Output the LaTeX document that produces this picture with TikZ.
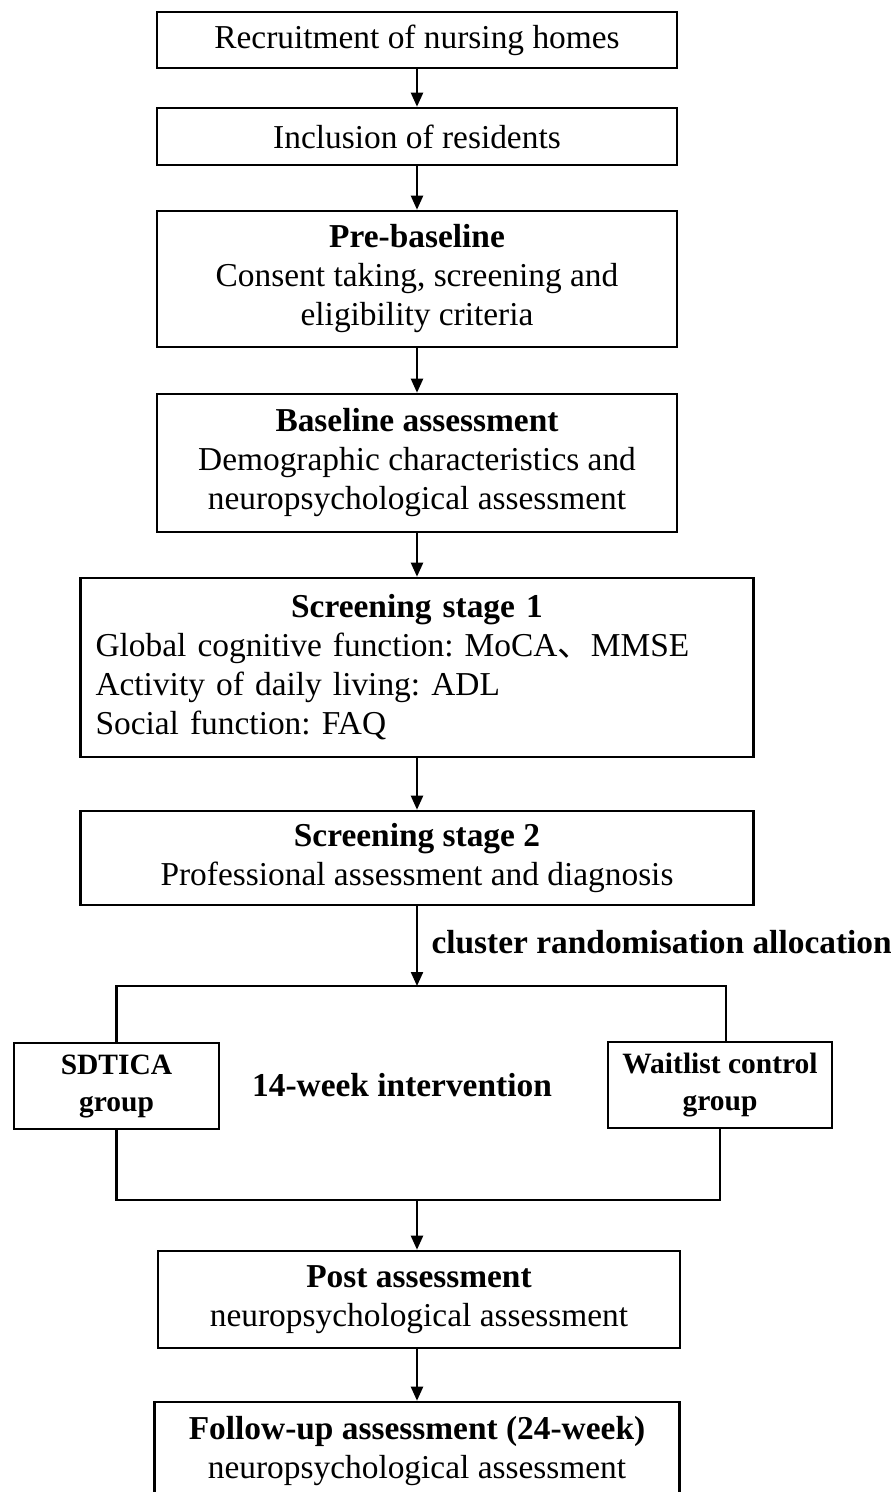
\documentclass[tikz,border=0pt]{standalone}
\usepackage{fontspec}
\setmainfont{Liberation Serif}
\newfontfamily\cjk{Noto Sans CJK SC}
\usetikzlibrary{arrows.meta}
\frenchspacing

\tikzset{
    stagebox/.style={rectangle, draw, line width=2.6pt, align=center, inner sep=0pt},
    groupbox/.style={stagebox, font=\fontsize{29.5}{37}\selectfont\bfseries},
    link/.style={line width=2.2pt},
    arr/.style={link, -{Triangle[length=14pt,width=12pt]}}
}

\begin{document}
\begin{tikzpicture}[x=1pt, y=-1pt, font=\fontsize{33.4}{39}\selectfont]
    \useasboundingbox (0,0) rectangle (891,1492);

    % Enrolment
    \node[stagebox, minimum width=520, minimum height=56] (REC) at (417,40) {Recruitment of nursing homes};
    \node[stagebox, minimum width=520, minimum height=57] (INC) at (417,136.5) {Inclusion of residents};
    \node[stagebox, minimum width=520, minimum height=136] (PRE) at (417,279) {\textbf{Pre-baseline}\\Consent taking, screening and\\eligibility criteria};
    \node[stagebox, minimum width=520, minimum height=138] (BASE) at (417,463) {\textbf{Baseline assessment}\\Demographic characteristics and\\neuropsychological assessment};

    % Screening
    \node[stagebox, align=left, text width=643pt, inner xsep=15pt, minimum height=179] (SCR1) at (417,667.5) {\makebox[\linewidth][c]{\textbf{Screening stage 1}}\\Global cognitive function: MoCA{\cjk 、}MMSE\\Activity of daily living: ADL\\Social function: FAQ};
    \node[stagebox, minimum width=673, minimum height=94] (SCR2) at (417,858) {\textbf{Screening stage 2}\\Professional assessment and diagnosis};

    % Allocation and groups
    \node[anchor=west] (CRA) at (428,942) {\textbf{cluster randomisation allocation}};
    \coordinate (SPLIT) at (417,986);
    \node[groupbox, minimum width=205, minimum height=86] (SDT) at (116.5,1086) {SDTICA\\group};
    \node[groupbox, minimum width=224, minimum height=86] (WAIT) at (720,1085) {Waitlist control\\group};
    \node (INT) at (402,1085) {\textbf{14-week intervention}};
    \coordinate (JOIN) at (417,1200);

    % Follow-up
    \node[stagebox, minimum width=522, minimum height=97] (POST) at (419,1299.5) {\textbf{Post assessment}\\neuropsychological assessment};
    \node[stagebox, minimum width=525, minimum height=98] (FOL) at (417,1451) {\textbf{Follow-up assessment (24-week)}\\neuropsychological assessment};

    % Connections
    \draw[arr] (REC) -- (INC);
    \draw[arr] (INC) -- (PRE);
    \draw[arr] (PRE) -- (BASE);
    \draw[arr] (BASE) -- (SCR1);
    \draw[arr] (SCR1) -- (SCR2);
    \draw[arr] (SCR2) -- (SPLIT);
    \draw[link] (SDT.north) |- (SPLIT) -| ([xshift=6pt]WAIT.north);
    \draw[link] (SDT.south) |- (JOIN) -| (WAIT.south);
    \draw[arr] (JOIN) -- (JOIN |- POST.north);
    \draw[arr] (POST.south -| FOL.north) -- (FOL.north);
\end{tikzpicture}
\end{document}
